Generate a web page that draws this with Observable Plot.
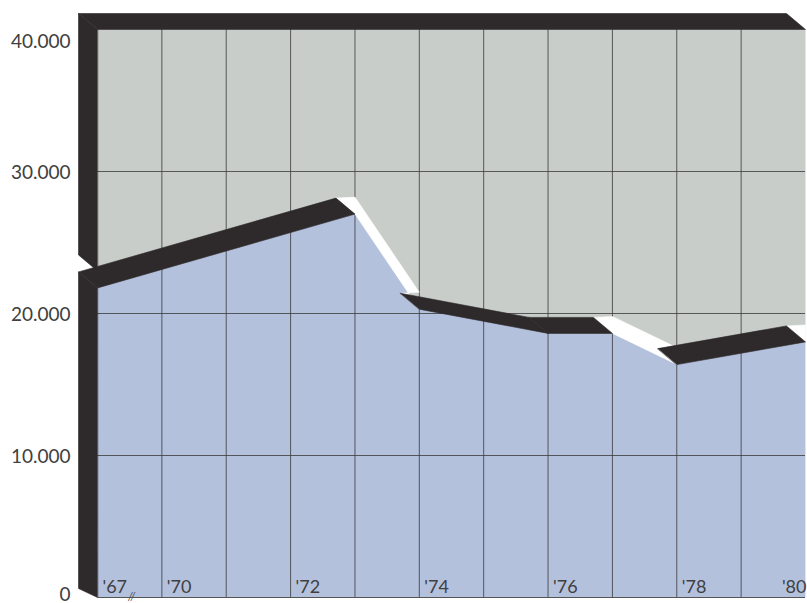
<!DOCTYPE html>
<html>
<head>
<meta charset="utf-8">
<script src="https://cdn.jsdelivr.net/npm/d3@7"></script>
<script src="https://cdn.jsdelivr.net/npm/@observablehq/plot@0.6"></script>
<style>
  html, body { margin: 0; padding: 0; background: #ffffff; }
  #chart svg { display: block; }
</style>
</head>
<body>
<div id="chart"></div>
<script>
// Series: value at each turning point of the line
const years  = [1967, 1973, 1974, 1976, 1977, 1978, 1980];
const values = [21800, 27000, 20300, 18600, 18600, 16400, 18000];

// Axis ticks
const gridYears  = [1970, 1971, 1972, 1973, 1974, 1975, 1976, 1977, 1978, 1979];
const tickYears  = [1967, 1970, 1972, 1974, 1976, 1978, 1980];
const tickLabels = ["'67", "'70", "'72", "'74", "'76", "'78", "'80"];
const yTicks     = [0, 10000, 20000, 30000, 40000];
const yMax = 40000;

// Colours
const GRAY = "#c8cdca", BLUE = "#b4c1dd", DARK = "#2e292a", INK = "#404040";

// Layout
const W = 807, H = 603, ML = 97, MR = 2, MT = 29, MB = 6;

// Broken time axis: 1967 sits one slot before 1970, then one slot per year
const slot = yr => yr < 1970 ? (yr - 1967) / 3 : yr - 1969;
const slotMax = slot(1980);

// Depth of the extruded slabs, in pixels, converted to data units
const slotPx = (W - ML - MR) / slotMax;
const valPx = (H - MT - MB) / yMax;
const DX = 19, DY = 16, GAP = 17, BASE_DY = 9;
const ox = -DX / slotPx, oy = DY / valPx, lift = GAP / valPx, oyBase = BASE_DY / valPx;

const pts = years.map((yr, i) => ({x: slot(yr), y: values[i]}));
const shift = p => ({x: p.x + ox, y: p.y + oy});
const up = p => ({x: p.x, y: p.y + lift});

// Build the dark faces and the white gaps as closed polygons
const dark = [], white = [];
let id = 0;
const add = (arr, ps) => { const k = id++; ps.forEach(p => arr.push({poly: k, x: p.x, y: p.y})); };

const P0 = pts[0], PL = pts[pts.length - 1];
// top of the box and left side of the upper slab
add(dark, [{x: 0, y: yMax}, {x: slotMax, y: yMax}, shift({x: slotMax, y: yMax}), shift({x: 0, y: yMax})]);
add(dark, [{x: 0, y: yMax}, shift({x: 0, y: yMax}), shift(up(P0)), up(P0)]);
// left side of the lower slab
add(dark, [P0, shift(P0), {x: ox, y: oyBase}, {x: 0, y: 0}]);

for (let i = 0; i < pts.length - 1; i++) {
  const a = pts[i], b = pts[i + 1];
  const drop = (a.y - b.y) * valPx / ((b.x - a.x) * slotPx);
  if (drop > 0.4) {
    // steep fall: the top face turns away and the gap shows
    add(white, [shift(a), up(a), up(b), shift(b), b, a]);
  } else {
    add(dark, [a, b, shift(b), shift(a)]);
  }
}
// gap at the right end of the top face
add(white, [shift(PL), up(PL), PL]);

const fmt = d3.formatLocale({decimal: ",", thousands: ".", grouping: [3]}).format(",");
const font = "Lato, 'Liberation Sans', sans-serif";

const chart = Plot.plot({
  width: W, height: H,
  marginLeft: ML, marginRight: MR, marginTop: MT, marginBottom: MB,
  x: {domain: [0, slotMax], axis: null},
  y: {domain: [0, yMax], axis: null},
  style: {fontFamily: font, background: "transparent", overflow: "visible"},
  marks: [
    Plot.frame({fill: GRAY, stroke: "none"}),
    Plot.areaY(pts, {x: "x", y: "y", fill: BLUE}),
    Plot.ruleX(gridYears.map(slot), {stroke: "#3a3a3a", strokeWidth: 1, strokeOpacity: 0.8}),
    Plot.ruleY(yTicks.filter(v => v > 0 && v < yMax), {stroke: "#3a3a3a", strokeWidth: 1, strokeOpacity: 0.8}),
    Plot.line(white, {x: "x", y: "y", z: "poly", fill: "#ffffff", stroke: "#ffffff", strokeWidth: 0.5, curve: "linear-closed"}),
    Plot.line(dark, {x: "x", y: "y", z: "poly", fill: DARK, stroke: DARK, strokeWidth: 0.6, curve: "linear-closed"}),
    Plot.ruleY([0], {stroke: "#555", strokeWidth: 1.2}),
    // y tick labels
    Plot.text(yTicks.filter(v => v > 0 && v < yMax), {y: d => d, text: fmt, frameAnchor: "left", dx: -27, dy: 1, textAnchor: "end", fontSize: 19, fill: INK}),
    Plot.text([0], {y: d => d, text: fmt, frameAnchor: "left", dx: -27, dy: -3, textAnchor: "end", fontSize: 19, fill: INK}),
    Plot.text([yMax], {y: d => d, text: fmt, frameAnchor: "left", dx: -27, dy: 12, textAnchor: "end", fontSize: 19, fill: INK}),
    // x tick labels
    Plot.text(tickYears.slice(0, -1), {x: d => slot(d), y: 0, text: (d, i) => tickLabels[i], dx: 5, dy: -10, textAnchor: "start", fontSize: 18, fill: INK}),
    Plot.text(tickYears.slice(-1), {x: d => slot(d), y: 0, text: () => tickLabels[tickLabels.length - 1], dx: 1, dy: -10, textAnchor: "end", fontSize: 18, fill: INK}),
    // axis break after '67
    Plot.text([1967], {x: d => slot(d), y: 0, text: () => "//", dx: 34, dy: -1, textAnchor: "middle", fontSize: 11, fontStyle: "italic", fill: INK})
  ]
});
document.getElementById("chart").appendChild(chart);
</script>
</body>
</html>
